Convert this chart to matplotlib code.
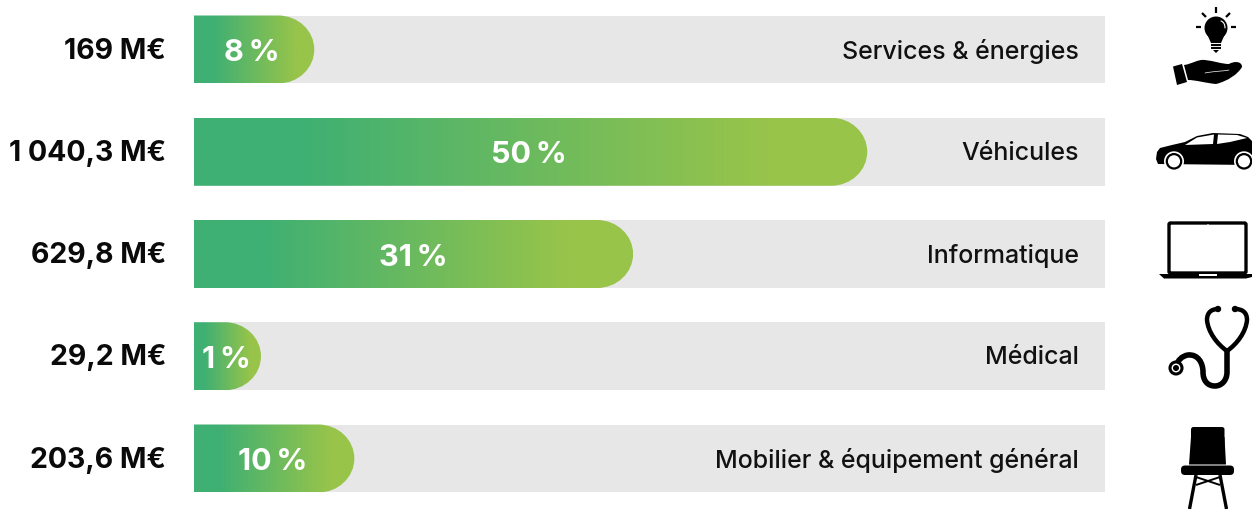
import numpy as np
import matplotlib
matplotlib.use('Agg')
import matplotlib.pyplot as plt
from matplotlib.colors import LinearSegmentedColormap
from matplotlib.patches import Circle, PathPatch, Polygon, Rectangle, FancyBboxPatch
from matplotlib.path import Path

categories = ['Services & énergies', 'Véhicules', 'Informatique', 'Médical', 'Mobilier & équipement général']
amounts = ['169 M€', '1 040,3 M€', '629,8 M€', '29,2 M€', '203,6 M€']
percents = ['8\u2009%', '50\u2009%', '31\u2009%', '1\u2009%', '10\u2009%']
# bar length as share of the grey track
bar_lengths = [13.2, 73.9, 48.2, 7.35, 17.6]
track_length = 100
label_centers = [6.3, 36.8, 24.1, 3.6, 8.6]

W, H = 1252, 510
plt.rcParams['font.family'] = ['Inter', 'DejaVu Sans']

fig = plt.figure(figsize=(W / 100, H / 100), dpi=100)
ax = fig.add_axes([194 / W, 0, (1105 - 194) / W, 1])
step = 102.25
center0 = 50.5
ax.axis('off')
ax.patch.set_visible(False)

cmap = LinearSegmentedColormap.from_list('bar', [(0, '#3fb073'), (0.16, '#3fb073'), (0.85, '#98c44a'), (1, '#98c44a')])
grad = np.linspace(0, 1, 256).reshape(1, -1)
bar_h = 0.665
rx = 36 / (1105 - 194) * track_length

for i, cat in enumerate(categories):
    y0, y1 = i - bar_h / 2, i + bar_h / 2
    ax.add_patch(Rectangle((0, y0), track_length, bar_h, fc='#e7e7e7', ec='none'))
    L = bar_lengths[i]
    k = 0.5523
    verts = [(0, y0), (L - rx, y0),
             (L - rx + k * rx, y0), (L, i - k * bar_h / 2), (L, i),
             (L, i + k * bar_h / 2), (L - rx + k * rx, y1), (L - rx, y1),
             (0, y1), (0, y0)]
    codes = [Path.MOVETO, Path.LINETO, Path.CURVE4, Path.CURVE4, Path.CURVE4,
             Path.CURVE4, Path.CURVE4, Path.CURVE4, Path.LINETO, Path.CLOSEPOLY]
    clip = PathPatch(Path(verts, codes), fc='none', ec='none')
    ax.add_patch(clip)
    im = ax.imshow(grad, extent=(0, L, y1, y0), cmap=cmap, aspect='auto', zorder=2)
    im.set_clip_path(clip)
    ax.text(label_centers[i], i + 0.025, percents[i], color='white', fontsize=22, fontweight='bold',
            ha='center', va='center', zorder=3)
    ax.text(97.1, i + 0.005, cat, color='#111111', fontsize=18, fontweight='medium', ha='right', va='center', zorder=3)
    ax.text(-3.05, i + 0.005, amounts[i], color='#0a0a0a', fontsize=20.5, fontweight='bold', ha='right', va='center')
ax.set_xlim(0, track_length)
ax.set_ylim((H - center0) / step, -center0 / step)

# icons, drawn in pixel space
ic = fig.add_axes([0, 0, 1, 1])
ic.set_xlim(0, W)
ic.set_ylim(H, 0)
ic.axis('off')
ic.patch.set_visible(False)


def line(pts, lw=2, color='black', cap='butt'):
    xs, ys = zip(*pts)
    ic.plot(xs, ys, color=color, lw=lw, solid_capstyle=cap, solid_joinstyle='round')


def curve(verts, fc='black', ec='none', lw=0, closed=True):
    codes = [Path.MOVETO] + [Path.CURVE4] * (len(verts) - 1)
    if closed:
        verts = verts + [verts[0]]
        codes = codes + [Path.CLOSEPOLY]
    ic.add_patch(PathPatch(Path(verts, codes), fc=fc, ec=ec, lw=lw, capstyle='round'))


# bulb
ic.add_patch(Circle((1216, 29), 11.5, fc='black'))
ic.add_patch(Polygon([(1207, 35), (1225, 35), (1221, 44), (1211, 44)], fc='black'))
line([(1216, 8), (1216, 14)], 1.6)
line([(1202, 14), (1206, 18)], 1.6)
line([(1230, 14), (1226, 18)], 1.6)
line([(1196, 28), (1201, 28)], 1.6)
line([(1231, 28), (1236, 28)], 1.6)
line([(1211, 46), (1221, 46)], 1.5)
line([(1211, 49), (1221, 49)], 1.5)
ic.add_patch(Polygon([(1213, 51), (1219, 51), (1216, 54)], fc='black'))
curve([(1221, 22), (1224, 23), (1225, 26), (1225, 29)], fc='none', ec='white', lw=0.8, closed=False)

# hand
ic.add_patch(Polygon([(1173, 67.5), (1182, 65), (1187, 83), (1177, 86)], fc='black'))
curve([(1184, 66), (1192, 65), (1198, 60), (1205, 61), (1214, 62), (1222, 65), (1229, 65),
       (1234, 62), (1242, 62), (1242, 68), (1238, 75), (1228, 82), (1216, 85),
       (1205, 84), (1196, 81), (1188, 81)])
curve([(1205, 74), (1215, 72), (1226, 72), (1229, 71)], fc='none', ec='white', lw=0.5, closed=False)

# car
car_body = [(1156, 160), (1157, 153), (1160, 149), (1172, 146), (1185, 143), (1197, 137), (1213, 134),
            (1240, 135), (1248, 138), (1252, 142), (1252, 166), (1158, 165)]
ic.add_patch(Polygon(car_body, fc='black', joinstyle='round'))
ic.add_patch(Polygon([(1185, 146), (1197, 138.5), (1214, 135.5), (1213, 145)], fc='white'))
ic.add_patch(Polygon([(1218, 135.5), (1237, 136), (1247, 139), (1230, 143), (1217, 145)], fc='white'))
for cx in (1174, 1244):
    ic.add_patch(Circle((cx, 162.3), 10, fc='white', ec='none'))
    ic.add_patch(Circle((cx, 162.3), 7.2, fc='white', ec='black', lw=1.6))

# laptop
ic.add_patch(FancyBboxPatch((1169, 224), 77, 50, boxstyle='round,pad=0,rounding_size=1.5', fc='white', ec='black', lw=2.4))
ic.add_patch(Polygon([(1159, 275), (1252, 275), (1252, 278), (1246, 279.5), (1164, 279.5)], fc='black'))
ic.add_patch(Rectangle((1199, 275), 18, 1.5, fc='white'))
ic.add_patch(Circle((1208, 225.5), 0.6, fc='white'))

# stethoscope
curve([(1218, 310), (1212, 310), (1207, 313), (1207, 321), (1208, 333), (1217, 345), (1227, 352)],
      fc='none', ec='black', lw=3.2, closed=False)
curve([(1235, 310), (1242, 310), (1247, 313), (1247, 321), (1246, 333), (1237, 345), (1227, 352)],
      fc='none', ec='black', lw=3.2, closed=False)
ic.add_patch(Circle((1218, 310), 3.2, fc='black'))
ic.add_patch(Circle((1235, 310), 3.2, fc='black'))
curve([(1227, 352), (1227, 362), (1227, 368), (1227, 373), (1227, 382), (1221, 387), (1215, 387),
       (1207, 387), (1203, 381), (1203, 373), (1203, 364), (1198, 355), (1188, 356),
       (1182, 357), (1178, 361), (1176, 367)],
      fc='none', ec='black', lw=4, closed=False)
ic.add_patch(Circle((1176, 369), 6, fc='white', ec='black', lw=2.2))
ic.add_patch(Circle((1176, 369), 3, fc='black'))

# chair
ic.add_patch(FancyBboxPatch((1191, 428), 33.5, 20, boxstyle='round,pad=0,rounding_size=2.5', fc='black', ec='none'))
ic.add_patch(Polygon([(1191, 438), (1224.5, 438), (1226, 465.5), (1189, 465.5)], fc='black'))
ic.add_patch(FancyBboxPatch((1181, 466.5), 53, 9.5, boxstyle='round,pad=0,rounding_size=4', fc='black', ec='none'))
line([(1196, 476), (1189.5, 510)], 2.4)
line([(1220, 476), (1226.5, 510)], 2.4)
line([(1196, 478), (1220, 486)], 1.4)
line([(1220, 478), (1196, 486)], 1.4)

fig.savefig('out.png', dpi=100)
